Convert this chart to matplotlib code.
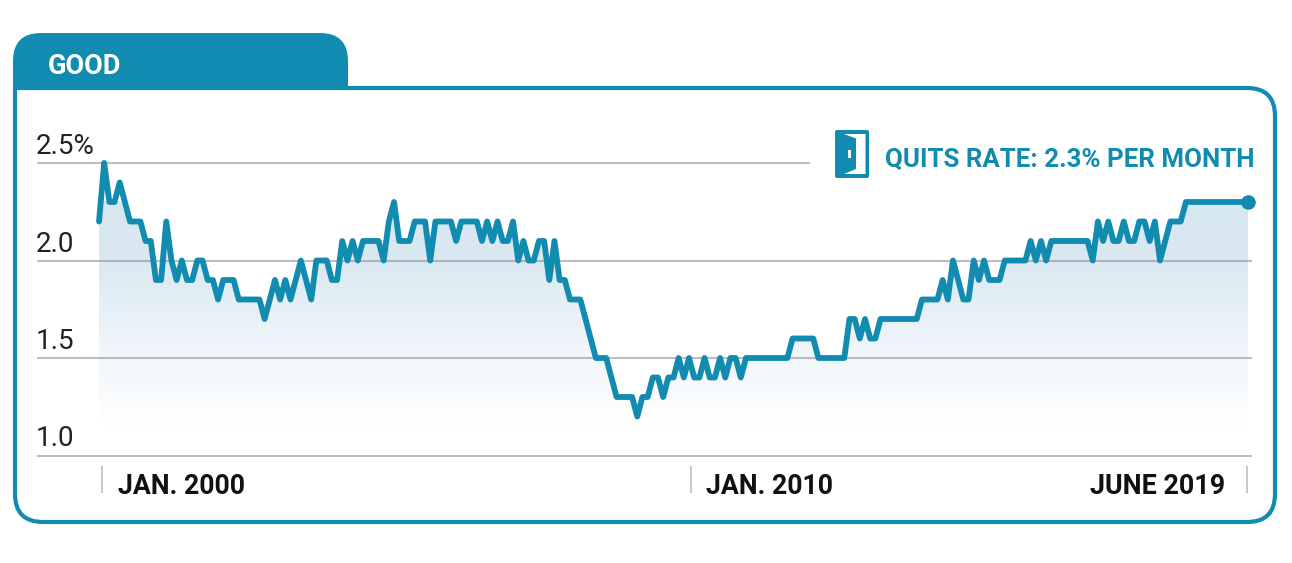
import numpy as np
import matplotlib
matplotlib.use("Agg")
import matplotlib.pyplot as plt
from matplotlib.colors import LinearSegmentedColormap
from matplotlib.patches import FancyBboxPatch, PathPatch, Polygon, Rectangle
from matplotlib.path import Path

# monthly quits rate
quits_rate = [
    2.2, 2.5, 2.3, 2.3, 2.4, 2.3, 2.2, 2.2, 2.2, 2.1, 2.1, 1.9, 1.9, 2.2, 2.0, 1.9,
    2.0, 1.9, 1.9, 2.0, 2.0, 1.9, 1.9, 1.8, 1.9, 1.9, 1.9, 1.8, 1.8, 1.8, 1.8, 1.8,
    1.7, 1.8, 1.9, 1.8, 1.9, 1.8, 1.9, 2.0, 1.9, 1.8, 2.0, 2.0, 2.0, 1.9, 1.9, 2.1,
    2.0, 2.1, 2.0, 2.1, 2.1, 2.1, 2.1, 2.0, 2.2, 2.3, 2.1, 2.1, 2.1, 2.2, 2.2, 2.2,
    2.0, 2.2, 2.2, 2.2, 2.2, 2.1, 2.2, 2.2, 2.2, 2.2, 2.1, 2.2, 2.1, 2.2, 2.1, 2.1,
    2.2, 2.0, 2.1, 2.0, 2.0, 2.1, 2.1, 1.9, 2.1, 1.9, 1.9, 1.8, 1.8, 1.8, 1.7, 1.6,
    1.5, 1.5, 1.5, 1.4, 1.3, 1.3, 1.3, 1.3, 1.2, 1.3, 1.3, 1.4, 1.4, 1.3, 1.4, 1.4,
    1.5, 1.4, 1.5, 1.4, 1.4, 1.5, 1.4, 1.4, 1.5, 1.4, 1.5, 1.5, 1.4, 1.5, 1.5, 1.5,
    1.5, 1.5, 1.5, 1.5, 1.5, 1.5, 1.6, 1.6, 1.6, 1.6, 1.6, 1.5, 1.5, 1.5, 1.5, 1.5,
    1.5, 1.7, 1.7, 1.6, 1.7, 1.6, 1.6, 1.7, 1.7, 1.7, 1.7, 1.7, 1.7, 1.7, 1.7,
    1.8, 1.8, 1.8, 1.8, 1.9, 1.8, 2.0, 1.9, 1.8, 1.8, 2.0, 1.9, 2.0, 1.9, 1.9, 1.9,
    2.0, 2.0, 2.0, 2.0, 2.0, 2.1, 2.0, 2.1, 2.0, 2.1, 2.1, 2.1, 2.1, 2.1, 2.1, 2.1,
    2.1, 2.0, 2.2, 2.1, 2.2, 2.1, 2.1, 2.2, 2.1, 2.1, 2.2, 2.2, 2.1, 2.2, 2.0, 2.1,
    2.2, 2.2, 2.2, 2.3, 2.3, 2.3, 2.3, 2.3, 2.3, 2.3, 2.3, 2.3, 2.3, 2.3, 2.3, 2.3,
]
y_ticks = [1.0, 1.5, 2.0, 2.5]
y_labels = ["1.0", "1.5", "2.0", "2.5%"]

TEAL = "#128bb1"
W, H = 1292, 563

fig = plt.figure(figsize=(W / 100, H / 100), dpi=100, facecolor="white")
plt.rcParams["font.family"] = ["Roboto", "DejaVu Sans"]

# page axes in pixels, for the card, the tab and the door
bg = fig.add_axes([0, 0, 1, 1])
bg.set_xlim(0, W)
bg.set_ylim(H, 0)
bg.axis("off")

# card: square top left corner, the other three rounded
x0, x1, y0, y1, r = 15, 1275, 88, 522, 28
card = Path(
    [(x0, y0), (x1 - r, y0), (x1, y0), (x1, y0 + r), (x1, y1 - r), (x1, y1), (x1 - r, y1),
     (x0 + r, y1), (x0, y1), (x0, y1 - r), (x0, y0), (x0, y0)],
    [Path.MOVETO, Path.LINETO, Path.CURVE3, Path.CURVE3, Path.LINETO, Path.CURVE3, Path.CURVE3,
     Path.LINETO, Path.CURVE3, Path.CURVE3, Path.LINETO, Path.CLOSEPOLY],
)
bg.add_patch(PathPatch(card, fc="white", ec=TEAL, lw=3))

# tab above the card
tab = Path(
    [(13, 90), (13, 61), (13, 33), (41, 33), (320, 33), (348, 33), (348, 61), (348, 90), (13, 90)],
    [Path.MOVETO, Path.LINETO, Path.CURVE3, Path.CURVE3, Path.LINETO, Path.CURVE3, Path.CURVE3,
     Path.LINETO, Path.CLOSEPOLY],
)
bg.add_patch(PathPatch(tab, fc=TEAL, ec="none"))
bg.text(48, 67, "GOOD", color="white", fontsize=19.5, fontweight="bold", va="center", ha="left")

# door icon
bg.add_patch(FancyBboxPatch((835, 130), 34, 48, boxstyle="round,pad=0,rounding_size=2", fc=TEAL, ec="none"))
bg.add_patch(Polygon([(844, 134), (865.5, 134), (865.5, 174), (844, 174), (856, 169), (856, 138.5)], fc="white", ec="none"))
bg.add_patch(Rectangle((848, 150), 3, 8, fc="white", ec="none"))
bg.text(885, 160, "QUITS RATE: 2.3% PER MONTH", color=TEAL, fontsize=18.6, fontweight="bold", va="center", ha="left")

# x labels and their ticks
for x in [102, 691, 1247]:
    bg.plot([x, x], [466, 493], color="#c8c8ca", lw=1.4, solid_capstyle="butt")
bg.text(118, 486, "JAN. 2000", color="#111111", fontsize=19.2, fontweight="bold", va="center", ha="left")
bg.text(706, 486, "JAN. 2010", color="#111111", fontsize=19.2, fontweight="bold", va="center", ha="left")
bg.text(1225, 486, "JUNE 2019", color="#111111", fontsize=19.4, fontweight="bold", va="center", ha="right")

# chart axes: month 0 sits at x=99, last month at x=1248; 1.0 at y=455.5, 2.5 at y=163
months = np.arange(len(quits_rate))
rate = np.array(quits_rate)
left, right, top, bottom = 37, 1252, 120, 470
ax = fig.add_axes([left / W, 1 - bottom / H, (right - left) / W, (bottom - top) / H])
px_per_month = (1248 - 99) / (len(rate) - 1)
px_per_unit = (455.5 - 163) / 1.5
xlim = ((left - 99) / px_per_month, (right - 99) / px_per_month)
ylim = (1.0 - (bottom - 455.5) / px_per_unit, 1.0 + (455.5 - top) / px_per_unit)
ax.patch.set_alpha(0)
ax.axis("off")

# fill under the line, fades out just above 1.0
fill_cmap = LinearSegmentedColormap.from_list(
    "fade", [(0, "#ffffff"), (0.45, "#eaf2f8"), (0.75, "#d9e8f1"), (1, "#d7e7f0")])
poly = ax.fill_between(months, 1.0, rate, color="none", lw=0)
grad = ax.imshow(np.linspace(1, 0, 256).reshape(-1, 1), cmap=fill_cmap, vmin=0, vmax=1, aspect="auto",
                 extent=[months[0], months[-1], 1.15, 2.3], zorder=1)
grad.set_clip_path(poly.get_paths()[0], transform=ax.transData)
ax.set_xlim(xlim)
ax.set_ylim(ylim)

for val, label in zip(y_ticks, y_labels):
    xmax = (809 - left) / (right - left) if val == 2.5 else 1
    ax.axhline(val, xmin=0, xmax=xmax, color="#8a8a90", alpha=0.55, lw=1.5, zorder=2)
    ax.annotate(label, (0, val), xycoords=("axes fraction", "data"), xytext=(-1, 3), textcoords="offset pixels",
                fontsize=20, fontweight="normal", color="#222222", va="bottom", ha="left")

ax.plot(months, rate, color=TEAL, lw=4.2, solid_joinstyle="round", solid_capstyle="round", zorder=3)
ax.plot(months[-1], rate[-1], "o", color=TEAL, ms=10.5, mew=0, zorder=4, clip_on=False)

fig.savefig("out.png", dpi=100, facecolor="white")
